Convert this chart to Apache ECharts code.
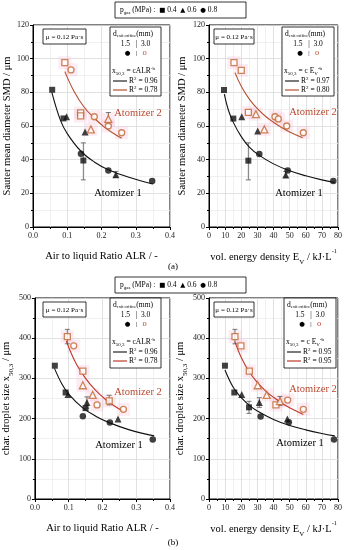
<!DOCTYPE html>
<html><head><meta charset="utf-8">
<script src="https://cdn.jsdelivr.net/npm/echarts@6/dist/echarts.min.js"></script>
<style>html,body{margin:0;padding:0;background:#fff}#c{width:350px;height:550px}</style>
</head><body><div id="c"></div>
<script>
// ---------- DATA ----------
// Panel (a) left: ALR vs SMD
const aL_blackSq  = [[0.056,81.5],[0.089,64.5],[0.147,39.5]];
const aL_blackTri = [[0.098,65.5],[0.152,56.5],[0.242,31]];
const aL_blackCir = [[0.140,43.5],[0.220,33.5],[0.348,27.3]];
const aL_orSq     = [[0.093,97.6],[0.139,67.8],[0.139,66]];
const aL_orTri    = [[0.169,58],[0.220,64.2]];
const aL_orCir    = [[0.111,93.3],[0.179,65.5],[0.220,60],[0.259,56]];
const aL_fit1     = [[0.055,80],[0.08,63.5],[0.1,55.5],[0.14,45],[0.18,38.5],[0.22,34],[0.28,29.5],[0.35,25.5]];
const aL_fit2     = [[0.093,92.3],[0.12,80.5],[0.15,71],[0.18,64.5],[0.21,59],[0.24,55],[0.259,52.7]];
const aL_err      = [[0.147,28,50],[0.242,29.5,33],[0.220,61,68]];
// Panel (a) right: E_V vs SMD
const aR_blackSq  = [[9.3,81.4],[15.1,64.4],[24.4,39.4]];
const aR_blackTri = [[20.3,65.5],[30.2,57],[47.6,30.9]];
const aR_blackCir = [[31.2,43.4],[48.8,33.5],[77.1,27.3]];
const aR_orSq     = [[15.5,97.6],[20.0,93],[24.4,68.1]];
const aR_orTri    = [[29.1,67],[34.3,58]];
const aR_orCir    = [[40.9,65.5],[43,64.2],[48.2,60],[58.5,56]];
const aR_fit1     = [[9.5,79],[12,69.5],[15,62.3],[20,53.7],[25,47.5],[31,42.7],[40,37.5],[50,33.4],[60,30.4],[70,28],[78,26.5]];
const aR_fit2     = [[16.1,91.7],[20,83.6],[25,76],[30,70.3],[35,65.8],[40,62.2],[45,59.1],[50,56.5],[58.1,53]];
const aR_err      = [[24.4,28,50],[47.6,29.5,33]];
// Panel (b) left: ALR vs x50,3
const bL_blackSq  = [[0.059,331.6],[0.091,265],[0.150,226]];
const bL_blackTri = [[0.098,260],[0.154,240],[0.246,199]];
const bL_blackCir = [[0.142,206],[0.222,190],[0.349,148]];
const bL_orSq     = [[0.096,404],[0.142,318],[0.220,244]];
const bL_orTri    = [[0.142,283],[0.171,259]];
const bL_orCir    = [[0.115,381],[0.184,234],[0.262,223]];
const bL_fit1     = [[0.058,325],[0.08,286],[0.1,261],[0.14,228],[0.18,206],[0.22,190],[0.28,172],[0.353,157]];
const bL_fit2     = [[0.093,393],[0.12,340],[0.15,300],[0.18,270],[0.21,247],[0.24,229],[0.259,219.5]];
const bL_err      = [[0.096,386,422],[0.154,226,254],[0.220,234,258]];
// Panel (b) right: E_V vs x50,3
const bR_blackSq  = [[9.9,331.6],[15.7,265],[24.8,228]];
const bR_blackTri = [[20.3,260],[31.2,240],[48.6,199]];
const bR_blackCir = [[32,205],[49.5,191],[77.5,148]];
const bR_orSq     = [[16.1,404],[19.8,381],[25,318],[41.5,234]];
const bR_orTri    = [[30.2,283],[35.8,259],[44,243.5]];
const bR_orCir    = [[48.8,246],[58.5,223]];
const bR_fit1     = [[9.9,321],[15,278],[20,252],[25,233],[30,219],[40,198],[50,183],[60,172],[70,163],[78,157]];
const bR_fit2     = [[16.1,391],[20,352],[25,316],[30,290],[35,269],[40,253],[45,239],[50,227],[58.5,210.5]];
const bR_err      = [[16.1,386,422],[31.2,228,252],[24.8,213,243],[44,233,255]];
// Legend texts
const r2a = ['0.96','0.78','0.97','0.80'];
const r2b = ['0.96','0.78','0.95','0.95'];
const pressures = ['0.4','0.6','0.8'];

// ---------- STYLE ----------
const F = "'Liberation Serif','Times New Roman',serif";
const BLK = '#111', OR = '#c2662f', ORL = '#b5502f', ORB = '#c0392b', PINK = 'rgba(247,185,212,0.35)';

const grids = [
  {left:33, top:25, width:137, height:202},
  {left:209, top:25, width:129, height:202},
  {left:33, top:298, width:137, height:201},
  {left:209, top:298, width:129, height:201}
].map(g => Object.assign(g, {show:true, borderColor:'#000', borderWidth:1, backgroundColor:'transparent'}));

const sub = {fontFamily:F, fontSize:7, verticalAlign:'bottom', lineHeight:13, padding:[0,0,-2,0], color:'#000'};
const nrm = {fontFamily:F, fontSize:10.5, lineHeight:13, color:'#000'};

function xAx(i, min, max, interval, name, dec) {
  return {gridIndex:i, type:'value', min, max, interval,
    axisLine:{show:true, onZero:false, lineStyle:{color:'#000'}},
    axisTick:{show:true, inside:false, length:3, lineStyle:{color:'#000'}},
    minorTick:{show:true, splitNumber:2, length:2, lineStyle:{color:'#000'}},
    splitLine:{show:true, lineStyle:{color:'#d9d9d9', width:0.8}},
    minorSplitLine:{show:true, lineStyle:{color:'#ececec', width:0.8}},
    axisLabel:{fontFamily:F, fontSize:8, color:'#222', margin:5, formatter: v => v.toFixed(dec)},
    name, nameLocation:'middle', nameGap:24,
    nameTextStyle:{fontFamily:F, fontSize:10.5, color:'#000', rich:{n:nrm, s:sub, p:{fontFamily:F,fontSize:6,verticalAlign:'top',lineHeight:13,padding:[-3,0,0,0],color:'#000'}}}
  };
}
function yAx(i, max, interval, name, gap) {
  return {gridIndex:i, type:'value', min:0, max, interval,
    axisLine:{show:true, onZero:false, lineStyle:{color:'#000'}},
    axisTick:{show:true, length:3, lineStyle:{color:'#000'}},
    minorTick:{show:true, splitNumber:2, length:2, lineStyle:{color:'#000'}},
    splitLine:{show:true, lineStyle:{color:'#d9d9d9', width:0.8}},
    minorSplitLine:{show:true, lineStyle:{color:'#ececec', width:0.8}},
    axisLabel:{fontFamily:F, fontSize:8, color:'#222', margin:4},
    name, nameLocation:'middle', nameGap:gap,
    nameTextStyle:{fontFamily:F, fontSize:10.5, color:'#000', rich:{n:nrm, s:sub}}
  };
}

const xAxis = [
  xAx(0,0,0.4,0.1,'Air to liquid Ratio ALR / -',1),
  xAx(1,0,80,10,'{n|vol. energy density E}{s|V}{n| / kJ·L}{p|-1}',0),
  xAx(2,0,0.4,0.1,'Air to liquid Ratio ALR / -',1),
  xAx(3,0,80,10,'{n|vol. energy density E}{s|V}{n| / kJ·L}{p|-1}',0)
];
const yAxis = [
  yAx(0,120,20,'Sauter mean diameter SMD / μm',20),
  yAx(1,120,20,'Sauter mean diameter SMD / μm',21),
  yAx(2,500,100,'{n|char. droplet size x}{s|50,3}{n| / μm}',21),
  yAx(3,500,100,'{n|char. droplet size x}{s|50,3}{n| / μm}',22)
];

function errSeries(i, data, color) {
  return {type:'custom', xAxisIndex:i, yAxisIndex:i, data, z:3, silent:true,
    renderItem:(params, api) => {
      const x = api.value(0), lo = api.value(1), hi = api.value(2);
      const p1 = api.coord([x, lo]), p2 = api.coord([x, hi]);
      const w = 2.5;
      return {type:'group', children:[
        {type:'line', shape:{x1:p1[0],y1:p1[1],x2:p2[0],y2:p2[1]}, style:{stroke:color, lineWidth:0.8}},
        {type:'line', shape:{x1:p1[0]-w,y1:p1[1],x2:p1[0]+w,y2:p1[1]}, style:{stroke:color, lineWidth:0.8}},
        {type:'line', shape:{x1:p2[0]-w,y1:p2[1],x2:p2[0]+w,y2:p2[1]}, style:{stroke:color, lineWidth:0.8}}
      ]};
    }};
}
function sc(i, data, symbol, color, open, size) {
  return {type:'scatter', xAxisIndex:i, yAxisIndex:i, data, symbol, symbolSize:size, z:5,
    itemStyle: open ? {color:'#fff', borderColor:color, borderWidth:1.3} : {color:color}};
}
function line(i, data, color) {
  return {type:'line', xAxisIndex:i, yAxisIndex:i, data, smooth:0.4, showSymbol:false, z:4,
    lineStyle:{color, width:1.1}};
}
function pink(i, arrs) {
  return {type:'scatter', xAxisIndex:i, yAxisIndex:i, data:[].concat(...arrs), symbol:'rect', symbolSize:13, z:1,
    itemStyle:{color:PINK}};
}
const panels = [
  [aL_blackSq,aL_blackTri,aL_blackCir,aL_orSq,aL_orTri,aL_orCir,aL_fit1,aL_fit2,aL_err],
  [aR_blackSq,aR_blackTri,aR_blackCir,aR_orSq,aR_orTri,aR_orCir,aR_fit1,aR_fit2,aR_err],
  [bL_blackSq,bL_blackTri,bL_blackCir,bL_orSq,bL_orTri,bL_orCir,bL_fit1,bL_fit2,bL_err],
  [bR_blackSq,bR_blackTri,bR_blackCir,bR_orSq,bR_orTri,bR_orCir,bR_fit1,bR_fit2,bR_err]
];
const series = [];
panels.forEach((p,i) => {
  series.push(pink(i,[p[3],p[4],p[5]]));
  series.push(line(i,p[6],BLK));
  series.push(line(i,p[7],i>=2?ORB:ORL));
  series.push(errSeries(i,p[8],'#555'));
  series.push(sc(i,p[0],'rect',BLK,false,6));
  series.push(sc(i,p[1],'triangle',BLK,false,7));
  series.push(sc(i,p[2],'circle',BLK,false,6.5));
  series.push(sc(i,p[3],'rect',OR,true,6));
  series.push(sc(i,p[4],'triangle',OR,true,7));
  series.push(sc(i,p[5],'circle',OR,true,6));
});

// ---------- GRAPHIC DECORATIONS ----------
const g = [];
const mctx = document.createElement('canvas').getContext('2d');
function fontStr(size, fam) { return size + 'px ' + (fam || F); }
function txt(x, y, text, size, color, align, fam) {
  g.push({type:'text', x, y, z:20, style:{text, font:fontStr(size, fam), fill:color||'#000',
    align:align||'left', verticalAlign:'middle'}});
}
// runs of text with sub/superscripts: parts = [text, size, dy, color?, fam?]
function runs(x, y, parts) {
  let cx = x;
  parts.forEach(([t, size, dy, color, fam]) => {
    txt(cx, y + dy, t, size, color, 'left', fam);
    mctx.font = fontStr(size, fam);
    cx += mctx.measureText(t).width;
  });
  return cx;
}
function rect(x, y, w, h) {
  g.push({type:'rect', z:15, shape:{x, y, width:w, height:h}, style:{fill:'#fff', stroke:'#000', lineWidth:0.8}});
}
function hline(x1, x2, y, color) {
  g.push({type:'line', z:20, shape:{x1, y1:y, x2, y2:y}, style:{stroke:color, lineWidth:1.2}});
}
const S = 7.5, s = 5;
const SYM = 'DejaVu Sans';
function topLegend(y) {
  rect(115, y, 131, 16);
  runs(120, y+8.5, [
    ['p', S, 0], ['gas', s, 2.5], [' (MPa) :  ', S, 0],
    ['■', 6.5, 0, '#000', SYM], [' '+pressures[0]+'  ', S, 0],
    ['▲', 6.5, 0, '#000', SYM], [' '+pressures[1]+'  ', S, 0],
    ['●', 6.5, 0, '#000', SYM], [' '+pressures[2], S, 0]
  ]);
}
function muBox(x, y, w) {
  rect(x, y, w, 15);
  txt(x+w/2, y+8, 'μ = 0.12 Pa·s', 7, '#000', 'center');
}
function innerLegend(x, y, w, h, kind, r1, r2, orColor) {
  rect(x, y, w, h);
  runs(x+3, y+7, [['d', S, 0], ['exit orifice', 4.5, 2.2], ['(mm)', S, 0]]);
  txt(x+w/2, y+17, '1.5   |  3.0', S, '#000', 'center');
  txt(x+w/2-8, y+26, '●', 6.5, '#000', 'center', SYM);
  txt(x+w/2+1, y+26, '|', 7, '#000', 'center');
  txt(x+w/2+9, y+26, 'o', 8.5, orColor, 'center');
  if (kind === 'ALR') {
    runs(x+2, y+44, [['x', S, 0], ['50,3', s, 2.2], [' = cALR', S, 0], ['-b', s, -2.5]]);
  } else {
    runs(x+2, y+44, [['x', S, 0], ['50,3', s, 2.2], [' = c E', S, 0], ['V', s, 2.2], ['-b', s, -2.5]]);
  }
  hline(x+3, x+17, y+54, '#222');
  runs(x+19, y+54, [['R', S, 0], ['2', s, -2.5], [' = '+r1, S, 0]]);
  hline(x+3, x+17, y+63, orColor);
  runs(x+19, y+63, [['R', S, 0], ['2', s, -2.5], [' = '+r2, S, 0]]);
}
topLegend(2);
topLegend(277);
muBox(43, 29, 43); muBox(214, 29, 40);
muBox(43, 302, 43); muBox(214, 302, 40);
innerLegend(110, 27, 51, 69, 'ALR', r2a[0], r2a[1], ORL);
innerLegend(282, 27, 52, 69, 'EV', r2a[2], r2a[3], ORL);
innerLegend(110, 298, 51, 70, 'ALR', r2b[0], r2b[1], ORB);
innerLegend(284, 298, 52, 70, 'EV', r2b[2], r2b[3], ORB);
// Atomizer labels
txt(138, 113, 'Atomizer 2', 10.5, '#b9482f', 'center');
txt(118, 193, 'Atomizer 1', 10.5, '#000', 'center');
txt(313, 112, 'Atomizer 2', 10.5, '#b9482f', 'center');
txt(299, 193, 'Atomizer 1', 10.5, '#000', 'center');
txt(138, 392, 'Atomizer 2', 10.5, '#b9482f', 'center');
txt(119, 445, 'Atomizer 1', 10.5, '#000', 'center');
txt(313, 389, 'Atomizer 2', 10.5, '#b9482f', 'center');
txt(300, 443, 'Atomizer 1', 10.5, '#000', 'center');
txt(173, 267, '(a)', 9, '#000', 'center');
txt(173, 543, '(b)', 9, '#000', 'center');

const chart = echarts.init(document.getElementById('c'), null, {renderer:'canvas'});
chart.setOption({animation:false, backgroundColor:'#fff', grid:grids, xAxis, yAxis, series, graphic:g});
</script></body></html>
